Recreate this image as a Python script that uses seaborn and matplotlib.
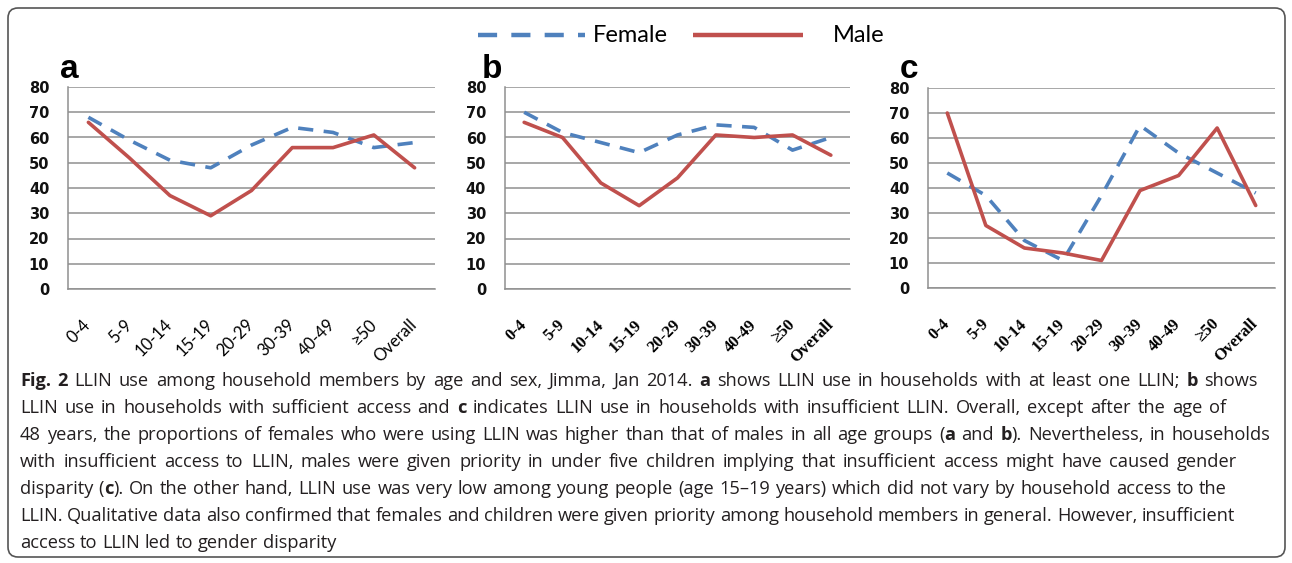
import matplotlib
matplotlib.use("Agg")
import matplotlib.pyplot as plt
import numpy as np
import pandas as pd
import seaborn as sns
from matplotlib.patches import FancyBboxPatch
from matplotlib.lines import Line2D

# ---------------- data ----------------
ages = ["0-4", "5-9", "10-14", "15-19", "20-29", "30-39", "40-49", "≥50", "Overall"]
female_a = [68, 59, 51, 48, 57, 64, 62, 56, 58]
male_a = [66, 52, 37, 29, 39, 56, 56, 61, 48]
female_b = [70, 62, 58, 54, 61, 65, 64, 55, 60]
male_b = [66, 60, 42, 33, 44, 61, 60, 61, 53]
female_c = [46, 37, 19, 11, 37, 65, 54, 46, 38]
male_c = [70, 25, 16, 14, 11, 39, 45, 64, 33]
panel_letters = ["a", "b", "c"]
y_ticks = [0, 10, 20, 30, 40, 50, 60, 70, 80]
series_names = ["Female", "Male"]

# ** marks bold runs
caption_lines = [
    "**Fig.** **2** LLIN use among household members by age and sex, Jimma, Jan 2014. **a** shows LLIN use in households with at least one LLIN; **b** shows",
    "LLIN use in households with sufficient access and **c** indicates LLIN use in households with insufficient LLIN. Overall, except after the age of",
    "48 years, the proportions of females who were using LLIN was higher than that of males in all age groups (**a** and **b**). Nevertheless, in households",
    "with insufficient access to LLIN, males were given priority in under five children implying that insufficient access might have caused gender",
    "disparity (**c**). On the other hand, LLIN use was very low among young people (age 15–19 years) which did not vary by household access to the",
    "LLIN. Qualitative data also confirmed that females and children were given priority among household members in general. However, insufficient",
    "access to LLIN led to gender disparity",
]
caption_right = [1258, 1226, 1270, 1237, 1227, 1235, None]

# ---------------- style ----------------
sns.set_theme(style="white")
plt.rcParams["font.family"] = ["DejaVu Sans"]

W, H = 1292, 563
fig = plt.figure(figsize=(W / 100, H / 100), dpi=100)
fig.patch.set_facecolor("white")

BLUE = "#4F81BD"
RED = "#C0504D"
GRID = "#8f8f8f"
palette = {"Female": BLUE, "Male": RED}
dashes = {"Female": (4.2, 2.9), "Male": ""}


def px_axes(l, t, r, b):
    return fig.add_axes([l / W, 1 - b / H, (r - l) / W, (b - t) / H])


boxes = [(68, 87, 435, 289), (505, 87, 850, 289), (928, 88, 1275, 288)]
series = [(female_a, male_a), (female_b, male_b), (female_c, male_c)]
xfonts = [dict(family="Lato", fontsize=12, fontweight="normal"),
          dict(family="Liberation Serif", fontsize=12, fontweight="bold"),
          dict(family="Liberation Serif", fontsize=12, fontweight="bold")]
letter_x = [60, 482, 900]

for i, (box, (fem, mal)) in enumerate(zip(boxes, series)):
    ax = px_axes(*box)
    df = pd.DataFrame({
        "age": ages + ages,
        "value": list(fem) + list(mal),
        "sex": [series_names[0]] * len(ages) + [series_names[1]] * len(ages),
    })
    sns.lineplot(data=df, x="age", y="value", hue="sex", style="sex",
                 palette=palette, dashes=dashes, linewidth=2.6, sort=False,
                 legend=False, ax=ax, zorder=3)
    ax.set_xlim(-0.5, len(ages) - 0.5)
    ax.set_ylim(0, 80)
    ax.set_yticks(y_ticks)
    ax.set_yticklabels([str(v) for v in y_ticks], fontsize=10.5, fontweight="bold",
                       family="DejaVu Sans", color="#111111")
    ax.set_xticks(range(len(ages)))
    ax.set_xticklabels(ages, rotation=45, ha="right", va="center",
                       rotation_mode="anchor", color="black", **xfonts[i])
    ax.set_xticks(np.arange(-0.5, len(ages), 1.0), minor=True)
    ax.tick_params(axis="x", which="major", length=0, pad=24)
    ax.tick_params(axis="x", which="minor", length=4, width=1.1, color=GRID, direction="out")
    ax.tick_params(axis="y", which="major", length=4.5, width=1.1, color=GRID,
                   direction="out", pad=9)
    ax.set_xlabel("")
    ax.set_ylabel("")
    ax.grid(axis="y", color=GRID, linewidth=1.1)
    ax.grid(axis="x", visible=False)
    for s in ["top", "right"]:
        ax.spines[s].set_visible(False)
    for s in ["left", "bottom"]:
        ax.spines[s].set_color(GRID)
        ax.spines[s].set_linewidth(1.1)
    ax.set_facecolor("white")
    fig.text(letter_x[i] / W, 1 - 78 / H, panel_letters[i], fontsize=24,
             fontweight="bold", family="Liberation Sans", color="black",
             ha="left", va="baseline")

# ---------------- legend (top centre) ----------------
ly = 1 - 35 / H
fig.add_artist(Line2D([478 / W, 585 / W], [ly, ly], color=BLUE, linewidth=3.2,
                      dashes=(4.3, 3.2), transform=fig.transFigure))
fig.text(593 / W, ly, series_names[0], fontsize=17, family="Lato", va="center",
         ha="left", color="black")
fig.add_artist(Line2D([693 / W, 803 / W], [ly, ly], color=RED, linewidth=3.2,
                      solid_capstyle="butt", transform=fig.transFigure))
fig.text(833 / W, ly, series_names[1], fontsize=17, family="Lato", va="center",
         ha="left", color="black")

# ---------------- border ----------------
border = FancyBboxPatch((8 / 100, (H - 557) / 100), (1285 - 8) / 100, (557 - 8) / 100,
                        boxstyle="round,pad=0,rounding_size=0.1",
                        transform=fig.dpi_scale_trans, facecolor="none",
                        edgecolor="#555555", linewidth=1.2)
fig.add_artist(border)

# ---------------- caption (justified, word by word) ----------------
CAP_FONT = "Open Sans"
CAP_COLOR = "#231f20"
LEFT = 20
renderer = fig.canvas.get_renderer()


def parse_words(line):
    words = []
    for w in line.split(" "):
        parts = w.split("**")
        runs = [(p, k % 2 == 1) for k, p in enumerate(parts) if p]
        words.append(runs)
    return words


def measure(txt, bold, fs):
    t = fig.text(0, 0, txt, fontsize=fs, family=CAP_FONT,
                 fontweight="bold" if bold else "normal")
    w = t.get_window_extent(renderer=renderer).width
    t.remove()
    return w


def space_width(fs):
    return measure("a a", False, fs) - 2 * measure("a", False, fs)


def natural_width(line, fs):
    words = parse_words(line)
    return (sum(measure(r, b, fs) for runs in words for r, b in runs)
            + space_width(fs) * (len(words) - 1))


fs0 = 12.0
fs = min(fs0 * ((caption_right[k] - LEFT) / natural_width(caption_lines[k], fs0))
         for k in range(len(caption_lines)) if caption_right[k] is not None)
space_w = space_width(fs)

for k, line in enumerate(caption_lines):
    words = parse_words(line)
    widths = [[measure(r, b, fs) for r, b in runs] for runs in words]
    word_w = [sum(ws) for ws in widths]
    if caption_right[k] is not None and len(words) > 1:
        gap = (caption_right[k] - LEFT - sum(word_w)) / (len(words) - 1)
    else:
        gap = space_w
    y = 1 - (381 + 27 * k) / H
    x = LEFT
    for runs, ws in zip(words, widths):
        for (r, b), w in zip(runs, ws):
            fig.text(x / W, y, r, fontsize=fs, family=CAP_FONT,
                     fontweight="bold" if b else "normal",
                     va="center", ha="left", color=CAP_COLOR)
            x += w
        x += gap

fig.savefig("out.png", dpi=100, facecolor="white")
